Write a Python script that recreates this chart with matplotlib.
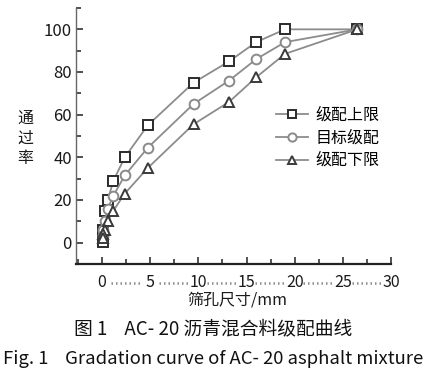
import matplotlib
matplotlib.use("Agg")
import matplotlib.pyplot as plt
from matplotlib.ticker import MultipleLocator

plt.rcParams['font.family'] = ['Noto Sans CJK SC', 'DejaVu Sans']

sieve = [26.5, 19, 16, 13.2, 9.5, 4.75, 2.36, 1.18, 0.6, 0.3, 0.15, 0.075]
upper = [100, 100, 94, 85, 75, 55, 40, 29, 20, 15, 6, 0.5]
target = [100, 94, 86, 76, 65, 44.5, 31.5, 22, 16, 10, 6, 3]
lower = [100, 88.5, 77.5, 66, 55.5, 35, 23, 15, 10, 6, 4, 2]
series_labels = ["级配上限", "目标级配", "级配下限"]
xticks = [0, 5, 10, 15, 20, 25, 30]
yticks = [0, 20, 40, 60, 80, 100]
xlabel = "筛孔尺寸/mm"
ylabel = "通\n过\n率"
caption_cn = "图 1    AC- 20 沥青混合料级配曲线"
caption_en = "Fig. 1    Gradation curve of AC- 20 asphalt mixture"

W, H = 429, 383
fig = plt.figure(figsize=(W / 100, H / 100), dpi=100)
ax = fig.add_axes([76 / W, 1 - 264 / H, (391 - 76) / W, (264 - 8) / H])

line_color = "#8c8c8c"
styles = [
    dict(marker="s", mec="#2b2b2b", ms=7.5),
    dict(marker="o", mec="#8a8a8a", ms=7),
    dict(marker="^", mec="#3a3a3a", ms=7.5),
]
for vals, lab, st in zip([upper, target, lower], series_labels, styles):
    ax.plot(sieve, vals, color=line_color, lw=1.3, mfc="white", mew=1.4,
            label=lab, zorder=3, **st)

ax.set_xlim(-2.7, 30)
ax.set_ylim(-10, 110)
for s in ["top", "right"]:
    ax.spines[s].set_visible(False)
ax.spines["left"].set_color("#666666")
ax.spines["left"].set_linewidth(1.0)
ax.spines["bottom"].set_color("#222222")
ax.spines["bottom"].set_linewidth(1.6)

ax.set_xticks(xticks)
ax.xaxis.set_minor_locator(MultipleLocator(2.5))
ax.set_yticks(yticks)
ax.set_yticks([v for v in range(0, 111, 10) if v not in yticks], minor=True)
ax.tick_params(axis="both", which="major", direction="in", length=5, width=1.2,
               color="#333333", labelsize=12, labelcolor="#1a1a1a")
ax.tick_params(axis="both", which="minor", direction="in", length=3.5, width=1.2,
               color="#333333")
ax.tick_params(axis="x", which="major", pad=7, labelsize=11.5)
ax.tick_params(axis="y", which="major", pad=3)
ax.set_xticklabels([str(v) for v in xticks])

# dotted leaders between x tick labels
for a, b in zip(xticks[:-1], xticks[1:]):
    ax.plot([a + 0.9, b - 1.0], [-19.0, -19.0], transform=ax.transData,
            clip_on=False, color="#8a8a8a", lw=1.8, ls=(0, (0.6, 1.2)))

fig.text(237 / W, 1 - 300 / H, xlabel, ha="center", va="center", fontsize=11.5,
         color="#1a1a1a")
fig.text(25 / W, 1 - 138 / H, ylabel, ha="center", va="center", fontsize=11.5,
         color="#1a1a1a", linespacing=1.25)

ax.legend(loc="upper left", bbox_to_anchor=(276 / W, 1 - 107 / H),
          bbox_transform=fig.transFigure, frameon=False, fontsize=11.5,
          handlelength=2.0, handletextpad=0.5, labelspacing=0.35,
          borderaxespad=0, borderpad=0, markerscale=0.85)

fig.text(213 / W, 1 - 329 / H, caption_cn, ha="center", va="center",
         fontsize=13.5, color="#111111")
fig.text(213 / W, 1 - 359 / H, caption_en, ha="center", va="center",
         fontsize=13.3, color="#111111")

fig.savefig("out.png", dpi=100)
